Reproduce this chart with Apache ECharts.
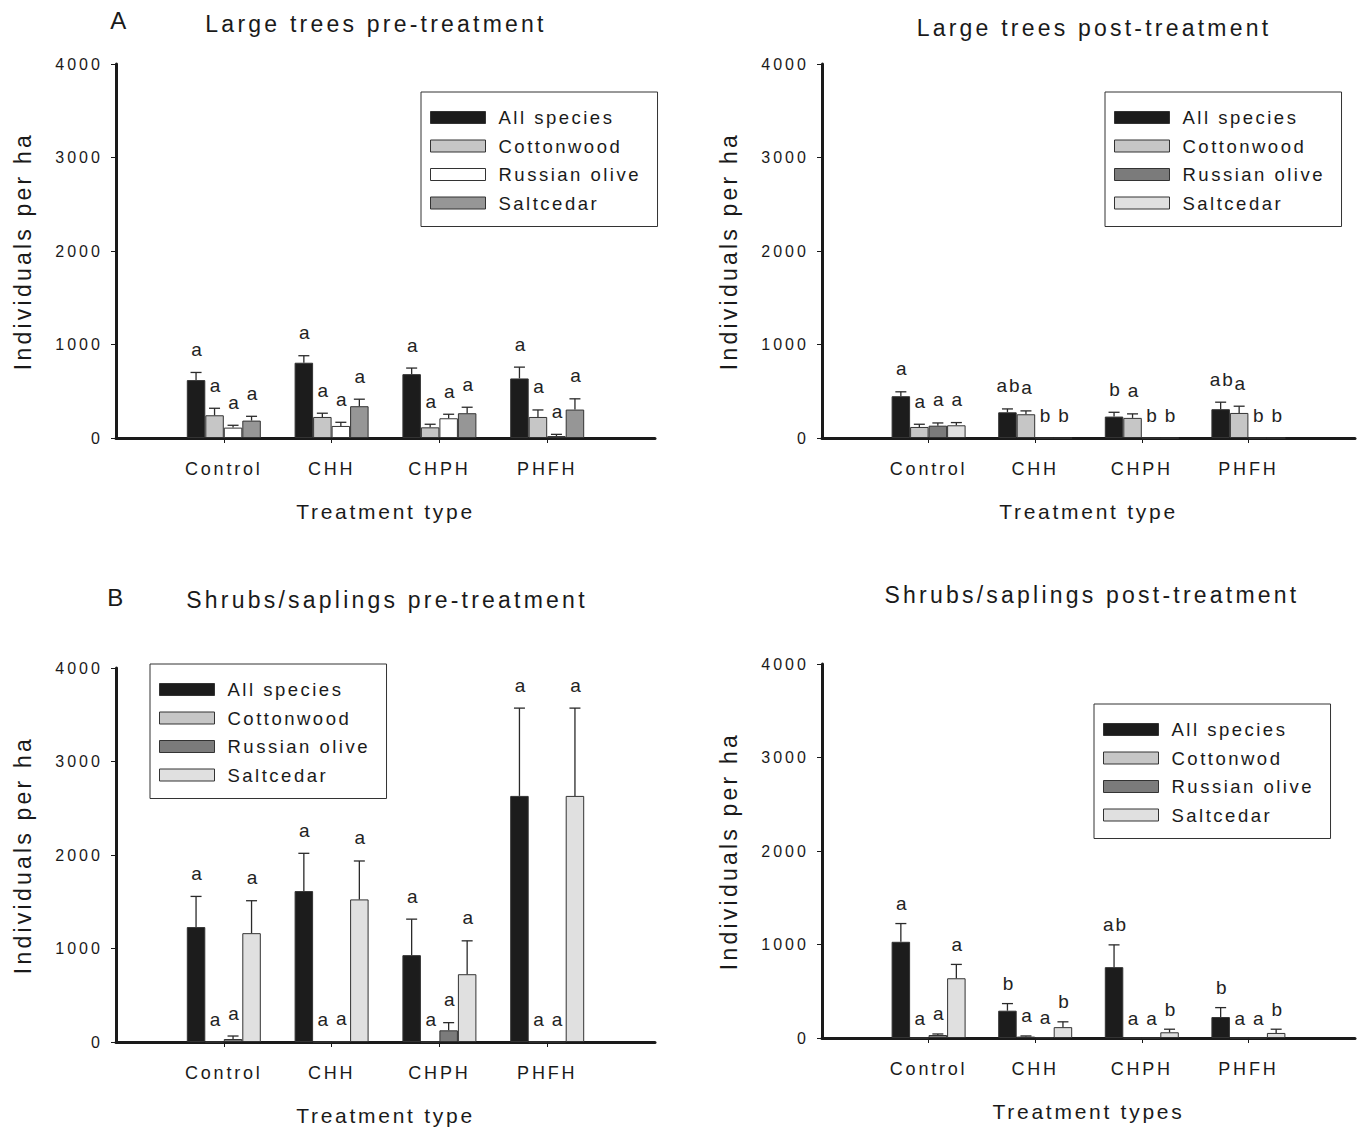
<!DOCTYPE html>
<html>
<head>
<meta charset="utf-8">
<script src="https://cdn.jsdelivr.net/npm/echarts@6/dist/echarts.min.js"></script>
<style>
html, body { margin: 0; padding: 0; background: #ffffff; }
#chart { width: 1358px; height: 1134px; }
#chart svg text { letter-spacing: 0.14em; }
#chart svg text[style*="16px"] { letter-spacing: 0.19em; }
#chart svg text[style*="18px"] { letter-spacing: 0.155em; }
#chart svg text[style*="18.5px"] { letter-spacing: 0.135em; }
#chart svg text[style*="19px"] { letter-spacing: 0.1em; }
#chart svg text[style*="21px"] { letter-spacing: 0.13em; }
#chart svg text[style*="23px"] { letter-spacing: 0.14em; }
</style>
</head>
<body>
<div id="chart"></div>
<script>
// ---------- data ----------
const categories = ['Control', 'CHH', 'CHPH', 'PHFH'];

// A: Large trees pre-treatment
const treesPreNames = ['All species', 'Cottonwood', 'Russian olive', 'Saltcedar'];
const treesPreAll = [619, 805, 683, 637];
const treesPreCottonwood = [243, 225, 114, 225];
const treesPreOlive = [111, 129, 211, 21];
const treesPreSaltcedar = [186, 340, 265, 304];
const treesPreAllErr = [701, 880, 748, 758];
const treesPreCottonwoodErr = [318, 265, 147, 300];
const treesPreOliveErr = [136, 168, 254, 39];
const treesPreSaltcedarErr = [232, 415, 329, 419];
const treesPreLetters = [['a', 'a', 'a', 'a'], ['a', 'a', 'a', 'a'], ['a', 'a', 'a', 'a'], ['a', 'a', 'a', 'a']];

// A: Large trees post-treatment
const treesPostNames = ['All species', 'Cottonwood', 'Russian olive', 'Saltcedar'];
const treesPostAll = [447, 275, 229, 308];
const treesPostCottonwood = [118, 254, 215, 268];
const treesPostOlive = [132, 0, 0, 0];
const treesPostSaltcedar = [136, 0, 0, 0];
const treesPostAllErr = [494, 311, 275, 383];
const treesPostCottonwoodErr = [147, 290, 258, 340];
const treesPostOliveErr = [161, 0, 0, 0];
const treesPostSaltcedarErr = [165, 0, 0, 0];
const treesPostLetters = [['a', 'a', 'a', 'a'], ['ab', 'a', 'b', 'b'], ['b', 'a', 'b', 'b'], ['ab', 'a', 'b', 'b']];

// B: Shrubs/saplings pre-treatment
const shrubsPreNames = ['All species', 'Cottonwood', 'Russian olive', 'Saltcedar'];
const shrubsPreAll = [1229, 1614, 929, 2632];
const shrubsPreCottonwood = [0, 0, 0, 0];
const shrubsPreOlive = [32, 5, 125, 0];
const shrubsPreSaltcedar = [1164, 1525, 725, 2632];
const shrubsPreAllErr = [1557, 2018, 1314, 3571];
const shrubsPreCottonwoodErr = [0, 0, 0, 0];
const shrubsPreOliveErr = [64, 5, 207, 0];
const shrubsPreSaltcedarErr = [1511, 1936, 1082, 3571];
const shrubsPreLetters = [['a', 'a', 'a', 'a'], ['a', 'a', 'a', 'a'], ['a', 'a', 'a', 'a'], ['a', 'a', 'a', 'a']];

// B: Shrubs/saplings post-treatment
const shrubsPostNames = ['All species', 'Cottonwod', 'Russian olive', 'Saltcedar'];
const shrubsPostAll = [1029, 292, 758, 224];
const shrubsPostCottonwood = [0, 15, 0, 0];
const shrubsPostOlive = [32, 7, 0, 0];
const shrubsPostSaltcedar = [639, 116, 61, 54];
const shrubsPostAllErr = [1224, 368, 996, 325];
const shrubsPostCottonwoodErr = [0, 22, 0, 0];
const shrubsPostOliveErr = [43, 7, 0, 0];
const shrubsPostSaltcedarErr = [787, 173, 94, 94];
const shrubsPostLetters = [['a', 'a', 'a', 'a'], ['b', 'a', 'a', 'b'], ['ab', 'a', 'a', 'b'], ['b', 'a', 'a', 'b']];

const yAxisName = 'Individuals per ha';
const xAxisNames = ['Treatment type', 'Treatment type', 'Treatment type', 'Treatment types'];
const panelTitles = ['Large trees pre-treatment', 'Large trees post-treatment', 'Shrubs/saplings pre-treatment', 'Shrubs/saplings post-treatment'];

// ---------- styles / layout ----------
const FONT = '"Liberation Sans", Arial, sans-serif';
const INK = '#1a1a1a';
const BAR_W = 18.5;
const CAP_W = 11;
const colorsTreesPre = ['#1c1c1c', '#c6c6c6', '#ffffff', '#969696'];
const colorsOther = ['#1c1c1c', '#c6c6c6', '#7b7b7b', '#e0e0e0'];

const panels = [
  { names: treesPreNames, colors: colorsTreesPre,
    values: [treesPreAll, treesPreCottonwood, treesPreOlive, treesPreSaltcedar],
    errs: [treesPreAllErr, treesPreCottonwoodErr, treesPreOliveErr, treesPreSaltcedarErr],
    letters: treesPreLetters,
    grid: { left: 116, top: 64, width: 539, height: 374 },
    legend: { left: 421, top: 92 }, gap: 23 },
  { names: treesPostNames, colors: colorsOther,
    values: [treesPostAll, treesPostCottonwood, treesPostOlive, treesPostSaltcedar],
    errs: [treesPostAllErr, treesPostCottonwoodErr, treesPostOliveErr, treesPostSaltcedarErr],
    letters: treesPostLetters,
    grid: { left: 822, top: 64, width: 536, height: 374 },
    legend: { left: 1105, top: 92 }, gap: 23 },
  { names: shrubsPreNames, colors: colorsOther,
    values: [shrubsPreAll, shrubsPreCottonwood, shrubsPreOlive, shrubsPreSaltcedar],
    errs: [shrubsPreAllErr, shrubsPreCottonwoodErr, shrubsPreOliveErr, shrubsPreSaltcedarErr],
    letters: shrubsPreLetters,
    grid: { left: 116, top: 668, width: 539, height: 374 },
    legend: { left: 150, top: 664 }, gap: 23 },
  { names: shrubsPostNames, colors: colorsOther,
    values: [shrubsPostAll, shrubsPostCottonwood, shrubsPostOlive, shrubsPostSaltcedar],
    errs: [shrubsPostAllErr, shrubsPostCottonwoodErr, shrubsPostOliveErr, shrubsPostSaltcedarErr],
    letters: shrubsPostLetters,
    grid: { left: 822, top: 664, width: 536, height: 374 },
    legend: { left: 1094, top: 704 }, gap: 20 }
];

const grids = [], xAxes = [], yAxes = [], series = [], legends = [];

panels.forEach(function (p, pi) {
  grids.push(Object.assign({ containLabel: false }, p.grid));
  xAxes.push({
    type: 'category', gridIndex: pi, data: [''].concat(categories, ['']), boundaryGap: false,
    axisLine: { show: true, lineStyle: { color: INK, width: 3 } },
    axisTick: { show: true, length: 5, interval: function (idx) { return idx >= 1 && idx <= 4; }, lineStyle: { color: INK, width: 1 } },
    axisLabel: { interval: 0, fontSize: 18, color: INK, margin: 22, fontFamily: FONT },
    splitLine: { show: false },
    name: xAxisNames[pi], nameLocation: 'middle', nameGap: 63,
    nameTextStyle: { fontSize: 21, color: INK, fontFamily: FONT }
  });
  yAxes.push({
    type: 'value', gridIndex: pi, min: 0, max: 4000, interval: 1000,
    axisLine: { show: true, lineStyle: { color: INK, width: 3 } },
    axisTick: { show: true, length: 5, lineStyle: { color: INK, width: 1 } },
    axisLabel: { fontSize: 16, color: INK, margin: 13, fontFamily: FONT, formatter: function (v) { return String(v); } },
    splitLine: { show: false },
    name: yAxisName, nameLocation: 'middle', nameGap: 82,
    nameTextStyle: { fontSize: 23, color: INK, fontFamily: FONT }
  });
  p.names.forEach(function (name, si) {
    series.push({
      type: 'bar', name: name, xAxisIndex: pi, yAxisIndex: pi,
      barWidth: BAR_W, barGap: '0%', silent: true,
      itemStyle: { color: p.colors[si], borderColor: '#333333', borderWidth: 1 },
      data: p.values[si].map(function (v, ci) { return [ci + 1, v]; })
    });
  });
  const errData = [], errLetters = [];
  p.values.forEach(function (vals, si) {
    vals.forEach(function (v, ci) {
      errData.push([ci + 1, si, v, p.errs[si][ci]]);
      errLetters.push(p.letters[ci][si]);
    });
  });
  series.push({
    type: 'custom', xAxisIndex: pi, yAxisIndex: pi, silent: true, clip: false, z: 5,
    encode: { x: 0, y: 2 },
    data: errData,
    renderItem: function (params, api) {
      const cat = api.value(0), si = api.value(1), v = api.value(2), e = api.value(3);
      const base = api.coord([cat, v]);
      const x = base[0] + (si - 1.5) * BAR_W;
      const children = [];
      let yTop = base[1];
      if (e > v) {
        const top = api.coord([cat, e]);
        children.push({ type: 'line', shape: { x1: x, y1: base[1], x2: x, y2: top[1] }, style: { stroke: '#2a2a2a', lineWidth: 1.3 } });
        children.push({ type: 'line', shape: { x1: x - CAP_W / 2, y1: top[1], x2: x + CAP_W / 2, y2: top[1] }, style: { stroke: '#2a2a2a', lineWidth: 1.3 } });
        yTop = top[1];
      }
      children.push({ type: 'text', x: x + 1.5, y: yTop - p.gap,
        style: { text: errLetters[params.dataIndex], fill: '#222222', fontSize: 19, fontFamily: FONT, align: 'center', verticalAlign: 'middle' } });
      return { type: 'group', children: children };
    }
  });
  legends.push({
    left: p.legend.left, top: p.legend.top, orient: 'vertical', icon: 'rect',
    itemWidth: 55, itemHeight: 12, itemGap: 9.5, selectedMode: false,
    padding: [16, 49, 14, 9], borderColor: '#333333', borderWidth: 1, backgroundColor: '#ffffff',
    textStyle: { fontSize: 18.5, lineHeight: 18, color: INK, fontFamily: FONT, padding: [0, 0, 0, 8] },
    data: p.names.map(function (n, k) {
      return { name: n, itemStyle: { color: p.colors[k], borderColor: '#333333', borderWidth: 1 } };
    })
  });
});

const titleStyle = { fill: INK, fontSize: 23, fontFamily: FONT, align: 'center', verticalAlign: 'middle' };
const graphics = [
  { type: 'text', x: 120, y: 20, style: Object.assign({}, titleStyle, { text: 'A', fontSize: 24 }) },
  { type: 'text', x: 376, y: 24, style: Object.assign({}, titleStyle, { text: panelTitles[0] }) },
  { type: 'text', x: 1094, y: 28, style: Object.assign({}, titleStyle, { text: panelTitles[1] }) },
  { type: 'text', x: 117, y: 597, style: Object.assign({}, titleStyle, { text: 'B', fontSize: 24 }) },
  { type: 'text', x: 387, y: 600, style: Object.assign({}, titleStyle, { text: panelTitles[2] }) },
  { type: 'text', x: 1092, y: 595, style: Object.assign({}, titleStyle, { text: panelTitles[3] }) }
];

const chart = echarts.init(document.getElementById('chart'), null, { renderer: 'svg' });
chart.setOption({
  animation: false,
  backgroundColor: '#ffffff',
  textStyle: { fontFamily: FONT },
  grid: grids, xAxis: xAxes, yAxis: yAxes, legend: legends, series: series,
  graphic: graphics
});
</script>
</body>
</html>
